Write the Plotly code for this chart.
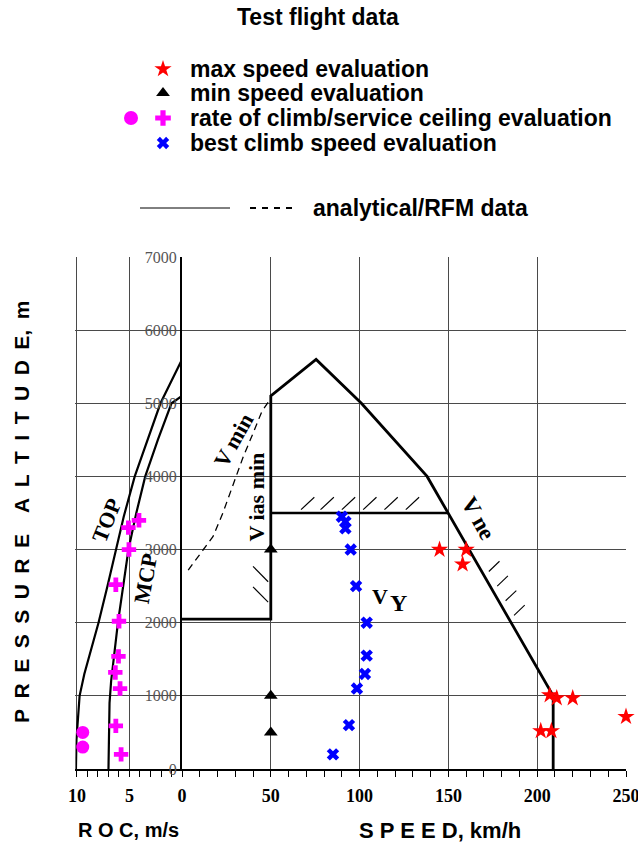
import plotly.graph_objects as go

W, H = 638, 847

# ---------------- data ----------------
# Left panel: rate of climb (m/s) vs pressure altitude (m)
top_alt = [0, 400, 600, 1000, 1300, 1550, 2000, 2500, 3000, 3450, 4000, 4500, 5000, 5600]
top_roc = [10.1, 10.05, 9.95, 9.75, 9.3, 8.8, 7.95, 7.1, 6.25, 5.55, 4.5, 3.3, 2.05, 0.0]
mcp_alt = [0, 900, 1200, 1500, 2000, 2500, 3000, 3500, 4000, 4500, 5000, 5100]
mcp_roc = [7.0, 6.9, 6.75, 6.5, 6.1, 5.6, 5.1, 4.35, 3.5, 2.3, 1.0, 0.0]
roc_pts_roc = [4.1, 5.1, 5.05, 6.3, 6.0, 6.05, 6.35, 5.9, 6.3, 5.8]
roc_pts_alt = [3400, 3300, 3000, 2520, 2020, 1540, 1320, 1100, 590, 200]
ceil_pts_roc = [9.45, 9.45]
ceil_pts_alt = [500, 300]

# Right panel: speed (km/h) vs pressure altitude (m)
env_speed = [0, 50, 50, 75.5, 101, 138, 209, 209]
env_alt = [2050, 2050, 5100, 5600, 5000, 4000, 1000, 0]
lim_speed = [50, 150]
lim_alt = [3500, 3500]
vmin_speed = [3.5, 10, 17.5, 23, 29, 34.5, 40, 45, 49.5]
vmin_alt = [2720, 2930, 3180, 3500, 3910, 4270, 4590, 4890, 5050]
vmax_speed = [145, 160, 158, 207, 211, 220, 250, 202, 208]
vmax_alt = [3000, 3000, 2800, 1010, 970, 970, 715, 520, 520]
vminev_speed = [50, 50, 50]
vminev_alt = [3000, 1000, 500]
vy_speed = [90, 92, 92, 95, 98, 104, 104, 103, 98.5, 94, 85]
vy_alt = [3450, 3380, 3290, 3000, 2500, 2000, 1550, 1300, 1100, 600, 200]

# hatch positions
hatch_top_speed = [67, 78, 90, 102, 114, 126]
hatch_vmin_alt = [2560, 2280]
hatch_vne_alt = [2700, 2500, 2300, 2100]

alt_ticks = [0, 1000, 2000, 3000, 4000, 5000, 6000, 7000]
roc_ticks = [10, 5, 0]
speed_ticks = [50, 100, 150, 200, 250]

# ---------------- geometry ----------------
def fx(px):
    return px / W

def fy(py):
    return 1 - py / H

fig = go.Figure()

BLACK = "black"
RED = "#ff0000"
MAG = "#ff00ff"
BLUE = "#0000ff"

# left panel curves
fig.add_trace(go.Scatter(x=top_roc, y=top_alt, mode="lines", line=dict(color=BLACK, width=2.2),
                         xaxis="x", yaxis="y", hoverinfo="skip"))
fig.add_trace(go.Scatter(x=mcp_roc, y=mcp_alt, mode="lines", line=dict(color=BLACK, width=2.2),
                         xaxis="x", yaxis="y", hoverinfo="skip"))
fig.add_trace(go.Scatter(x=roc_pts_roc, y=roc_pts_alt, mode="markers",
                         marker=dict(symbol="cross", size=12, color=MAG), xaxis="x", yaxis="y", cliponaxis=False))
fig.add_trace(go.Scatter(x=ceil_pts_roc, y=ceil_pts_alt, mode="markers",
                         marker=dict(symbol="circle", size=13, color=MAG), xaxis="x", yaxis="y", cliponaxis=False))

# right panel envelope
fig.add_trace(go.Scatter(x=env_speed, y=env_alt, mode="lines", line=dict(color=BLACK, width=2.8),
                         xaxis="x2", yaxis="y"))
fig.add_trace(go.Scatter(x=lim_speed, y=lim_alt, mode="lines", line=dict(color=BLACK, width=2.6),
                         xaxis="x2", yaxis="y"))
fig.add_trace(go.Scatter(x=vmin_speed, y=vmin_alt, mode="lines",
                         line=dict(color=BLACK, width=1.3, dash="7px,5px"), xaxis="x2", yaxis="y"))

# hatches
hx, hy = [], []
for s in hatch_top_speed:
    hx += [s, s + 7.5, None]
    hy += [3545, 3715, None]
for a in hatch_vmin_alt:
    hx += [40, 48.5, None]
    hy += [a + 210, a, None]
def vne_speed(a):
    return env_speed[5] + (env_alt[5] - a) / (env_alt[5] - env_alt[6]) * (env_speed[6] - env_speed[5])
for a in hatch_vne_alt:
    s0 = vne_speed(a)
    hx += [s0 + 4, s0 + 10, None]
    hy += [a, a + 140, None]
fig.add_trace(go.Scatter(x=hx, y=hy, mode="lines", line=dict(color=BLACK, width=1.1),
                         xaxis="x2", yaxis="y"))

# markers
fig.add_trace(go.Scatter(x=vy_speed, y=vy_alt, mode="markers",
                         marker=dict(symbol="x", size=11, color=BLUE), xaxis="x2", yaxis="y"))
fig.add_trace(go.Scatter(x=vminev_speed, y=vminev_alt, mode="markers",
                         marker=dict(symbol="triangle-up", size=12, color=BLACK), xaxis="x2", yaxis="y"))
fig.add_trace(go.Scatter(x=vmax_speed, y=vmax_alt, mode="markers",
                         marker=dict(symbol="star", size=13, color=RED, line=dict(width=0)),
                         xaxis="x2", yaxis="y", cliponaxis=False))

# ---------------- legend (custom, in pixel space overlay) ----------------
leg_rows_y = [69, 93, 118, 143]
fig.add_trace(go.Scatter(x=[163], y=[leg_rows_y[0]], mode="markers",
                         marker=dict(symbol="star", size=13, color=RED), xaxis="x3", yaxis="y3"))
fig.add_trace(go.Scatter(x=[163], y=[leg_rows_y[1]], mode="markers",
                         marker=dict(symbol="triangle-up", size=12, color=BLACK), xaxis="x3", yaxis="y3"))
fig.add_trace(go.Scatter(x=[131], y=[leg_rows_y[2]], mode="markers",
                         marker=dict(symbol="circle", size=14, color=MAG), xaxis="x3", yaxis="y3"))
fig.add_trace(go.Scatter(x=[163], y=[leg_rows_y[2]], mode="markers",
                         marker=dict(symbol="cross", size=13, color=MAG), xaxis="x3", yaxis="y3"))
fig.add_trace(go.Scatter(x=[163], y=[leg_rows_y[3]], mode="markers",
                         marker=dict(symbol="x", size=11, color=BLUE), xaxis="x3", yaxis="y3"))
fig.add_trace(go.Scatter(x=[140, 230], y=[208, 208], mode="lines",
                         line=dict(color=BLACK, width=1), xaxis="x3", yaxis="y3"))
fig.add_trace(go.Scatter(x=[250, 297], y=[208, 208], mode="lines",
                         line=dict(color=BLACK, width=2, dash="6px,6px"), xaxis="x3", yaxis="y3"))

SANS = "Liberation Sans, Arial, sans-serif"
SERIF = "Liberation Serif, Times New Roman, serif"

ann = []
def ptext(x, y, t, size, anchor="left", family=SANS, angle=0, color=BLACK):
    ann.append(dict(x=fx(x), y=fy(y), xref="paper", yref="paper", text=t, showarrow=False,
                    xanchor=anchor, yanchor="middle", textangle=angle,
                    font=dict(family=family, size=size, color=color, weight="bold")))

ES = "\u2002"
ptext(318, 17, "Test flight data", 23, anchor="center")
ptext(188, leg_rows_y[0], "max speed evaluation", 23)
ptext(188, leg_rows_y[1], "min speed evaluation", 23)
ptext(188, leg_rows_y[2], "rate of climb/service ceiling evaluation", 23)
ptext(188, leg_rows_y[3], "best climb speed evaluation", 23)
ptext(311, 208, "analytical/RFM data", 23)
ptext(128, 830, "R O C, m/s", 20, anchor="center")
ptext(440, 830, "S P E E D, km/h", 22, anchor="center")
ptext(21, 512, ES.join("PRESSURE") + ES * 2 + ES.join("ALTITUDE") + "," + ES + "m", 21,
      anchor="center", angle=-90)

def dtext(xr, x, y, t, size, angle):
    ann.append(dict(x=x, y=y, xref=xr, yref="y", text=t, showarrow=False,
                    xanchor="center", yanchor="middle", textangle=angle,
                    font=dict(family=SERIF, size=size, color=BLACK, weight="bold")))

dtext("x", 7.2, 3400, "TOP", 22, -68)
dtext("x", 3.45, 2600, "MCP", 22, -80)
dtext("x2", 29, 4490, "V min", 22, -61)
dtext("x2", 42, 3720, "V ias min", 22, -90)
dtext("x2", 167, 3430, "V ne", 23, 61)
dtext("x2", 111.5, 2360, "V", 22, 0)
dtext("x2", 122, 2270, "Y", 24, 0)

# ---------------- layout ----------------
GRID = "#4a4a4a"
tickfont = dict(family=SERIF, size=18, color=BLACK, weight="bold")
fig.update_layout(
    width=W, height=H, margin=dict(l=0, r=0, t=0, b=0, autoexpand=False),
    paper_bgcolor="white", plot_bgcolor="rgba(0,0,0,0)", showlegend=False,
    annotations=ann,
    xaxis=dict(domain=[fx(75.4), fx(182)], range=[10.15, 0], anchor="y", automargin=False,
               tickvals=roc_ticks, ticktext=[str(v) for v in roc_ticks], ticklabeloverflow="allow",
               showgrid=True, gridcolor=GRID, gridwidth=1, zeroline=False,
               showline=True, linecolor=BLACK, linewidth=1.5,
               ticks="outside", ticklen=6, tickcolor=BLACK, tickwidth=1.2,
               minor=dict(dtick=1, tick0=0, ticks="outside", ticklen=6, tickcolor=BLACK, tickwidth=1.2, showgrid=False),
               tickfont=tickfont, ticklabelstandoff=4, fixedrange=True),
    xaxis2=dict(domain=[fx(182), fx(626)], range=[0, 250], anchor="y", automargin=False,
                tickvals=speed_ticks, ticktext=[str(v) for v in speed_ticks], ticklabeloverflow="allow",
                showgrid=True, gridcolor=GRID, gridwidth=1, zeroline=False,
                showline=True, linecolor=BLACK, linewidth=1.5,
                ticks="outside", ticklen=6, tickcolor=BLACK, tickwidth=1.2,
                minor=dict(dtick=10, tick0=0, ticks="outside", ticklen=6, tickcolor=BLACK, tickwidth=1.2, showgrid=False),
                tickfont=tickfont, ticklabelstandoff=4, fixedrange=True),
    yaxis=dict(domain=[fy(769), fy(257)], range=[0, 7000], anchor="x2", side="left", automargin=False,
               tickvals=alt_ticks, ticktext=[str(v) for v in alt_ticks], ticklabeloverflow="allow",
               showgrid=True, gridcolor=GRID, gridwidth=1, zeroline=False,
               showline=True, linecolor=BLACK, linewidth=2.2, ticks="",
               tickfont=dict(family=SERIF, size=16, color="#555555"), ticklabelstandoff=0,
               fixedrange=True),
    xaxis3=dict(domain=[0, 1], range=[0, W], anchor="y3", visible=False, fixedrange=True, automargin=False),
    yaxis3=dict(domain=[0, 1], range=[H, 0], anchor="x3", visible=False, fixedrange=True, automargin=False),
)

fig.write_html("out.html")
